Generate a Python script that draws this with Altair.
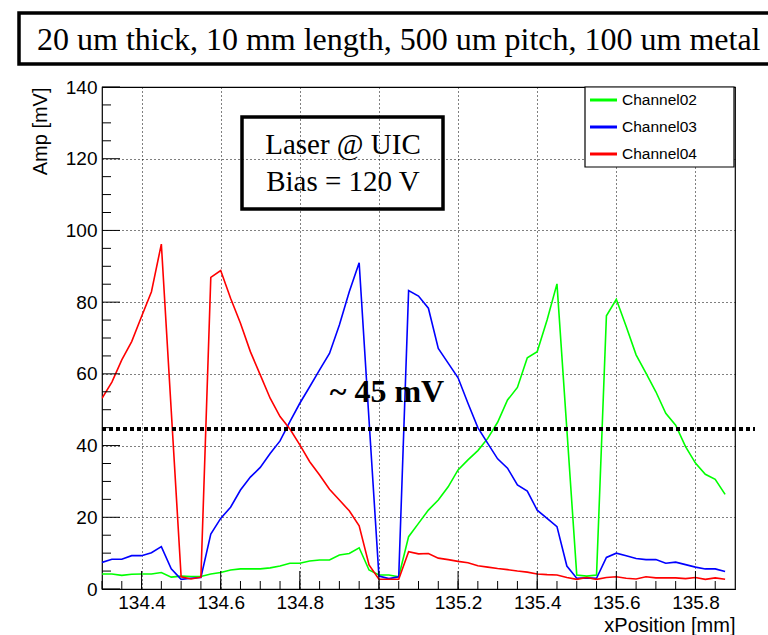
import altair as alt
import pandas as pd

# ---------------- data ----------------
x_pos = [134.3, 134.325, 134.35, 134.375, 134.4, 134.425, 134.45, 134.475,
         134.5, 134.525, 134.55, 134.575, 134.6, 134.625, 134.65, 134.675,
         134.7, 134.725, 134.75, 134.775, 134.8, 134.825, 134.85, 134.875,
         134.9, 134.925, 134.95, 134.975, 135.0, 135.025, 135.05, 135.075,
         135.1, 135.125, 135.15, 135.175, 135.2, 135.225, 135.25, 135.275,
         135.3, 135.325, 135.35, 135.375, 135.4, 135.425, 135.45, 135.475,
         135.5, 135.525, 135.55, 135.575, 135.6, 135.625, 135.65, 135.675,
         135.7, 135.725, 135.75, 135.775, 135.8, 135.825, 135.85, 135.875]

ch02 = [4.2, 4.2, 3.8, 4.1, 4.2, 4.2, 4.6, 3.3,
        3.6, 3.5, 3.5, 4.2, 4.6, 5.3, 5.6, 5.6,
        5.6, 5.9, 6.4, 7.2, 7.2, 7.8, 8.1, 8.1,
        9.5, 9.9, 11.5, 5.3, 3.9, 3.9, 3.4, 14.6,
        18.3, 22.0, 24.8, 28.5, 33.2, 36.0, 38.6, 42.0,
        46.5, 52.7, 56.2, 64.5, 66.2, 75.0, 85.1, 44.5,
        3.9, 3.6, 3.9, 76.2, 80.8, 73.2, 65.3, 60.2,
        55.0, 49.0, 45.7, 39.7, 35.1, 32.0, 30.6, 26.4]

ch03 = [7.4, 8.3, 8.3, 9.3, 9.3, 10.1, 11.8, 5.6,
        2.7, 3.0, 3.2, 15.3, 19.7, 22.8, 27.6, 31.2,
        33.9, 37.8, 41.3, 46.7, 51.8, 56.4, 61.1, 65.7,
        73.6, 82.9, 91.0, 47.0, 3.6, 2.9, 3.4, 83.2,
        81.7, 78.3, 67.1, 63.0, 58.9, 51.8, 45.0, 40.6,
        36.3, 33.7, 29.0, 27.3, 22.0, 19.7, 17.4, 6.4,
        3.0, 3.1, 3.0, 8.8, 10.0, 9.3, 8.5, 8.2,
        8.2, 7.2, 7.5, 6.8, 6.1, 5.6, 5.6, 4.9]

ch04 = [53.2, 57.7, 63.9, 69.0, 76.0, 82.9, 96.2, 49.8,
        3.4, 2.8, 3.3, 86.9, 88.8, 81.1, 74.1, 66.2,
        59.7, 53.2, 48.1, 44.6, 40.2, 35.5, 31.8, 27.8,
        24.8, 21.8, 17.6, 6.7, 2.7, 2.7, 2.7, 10.4,
        9.8, 9.9, 8.6, 8.2, 7.7, 7.3, 6.5, 6.1,
        5.7, 5.4, 5.0, 4.7, 4.2, 4.0, 3.9, 3.2,
        2.7, 3.2, 2.7, 3.2, 3.4, 3.0, 2.8, 3.4,
        3.1, 3.1, 3.1, 2.9, 3.2, 2.7, 3.1, 2.7]

channels = ["Channel02", "Channel03", "Channel04"]
colors = ["#00ff00", "#0000ff", "#ff0000"]

level_mv = [44.6]
level_label = ["~ 45 mV"]
title_text = ["20 um thick, 10 mm length, 500 um pitch, 100 um metal"]
box_lines = ["Laser @ UIC", "Bias = 120 V"]

x_major = [134.4, 134.6, 134.8, 135.0, 135.2, 135.4, 135.6, 135.8]
x_minor = [134.3, 134.35, 134.4, 134.45, 134.5, 134.55, 134.6, 134.65,
           134.7, 134.75, 134.8, 134.85, 134.9, 134.95, 135.0, 135.05,
           135.1, 135.15, 135.2, 135.25, 135.3, 135.35, 135.4, 135.45,
           135.5, 135.55, 135.6, 135.65, 135.7, 135.75, 135.8, 135.85]
y_major = [0, 20, 40, 60, 80, 100, 120, 140]
y_minor = [5, 10, 15, 25, 30, 35, 45, 50, 55, 65, 70, 75, 85, 90, 95,
           105, 110, 115, 125, 130, 135]

# ---------------- layout ----------------
W, H = 633, 502
SANS = "Liberation Sans"
SERIF = "Liberation Serif"

df = pd.DataFrame({
    "x": x_pos * 3,
    "amp": ch02 + ch03 + ch04,
    "ch": [c for c in channels for _ in x_pos],
})

xs = alt.Scale(domain=[134.3, 135.9], nice=False, zero=False)
ys = alt.Scale(domain=[0, 140], nice=False, zero=False)
cs = alt.Scale(domain=channels, range=colors)

x_axis = alt.Axis(values=x_major, format="~g", grid=True, gridDash=[1, 3],
                  gridColor="black", gridOpacity=1, gridWidth=1,
                  ticks=False, tickSize=0, domain=False,
                  labelFont=SANS, labelFontSize=19, labelColor="black",
                  labelPadding=4, labelFlush=False, labelOverlap=False,
                  title="xPosition [mm]", titleFont=SANS, titleFontSize=20,
                  titleFontWeight="normal", titleColor="black",
                  titleAlign="right", titleBaseline="alphabetic",
                  titleX=W, titleY=42)
y_axis = alt.Axis(values=y_major, grid=True, gridDash=[1, 3],
                  gridColor="black", gridOpacity=1, gridWidth=1,
                  ticks=False, tickSize=0, domain=False,
                  labelFont=SANS, labelFontSize=19, labelColor="black",
                  labelPadding=5, labelFlush=False, labelOverlap=False,
                  title="Amp [mV]", titleFont=SANS, titleFontSize=20,
                  titleFontWeight="normal", titleColor="black",
                  titleAngle=270, titleAlign="right", titleBaseline="alphabetic",
                  titleX=-56, titleY=0)

lines = alt.Chart(df).mark_line(strokeWidth=1.6, clip=True).encode(
    x=alt.X("x:Q", scale=xs, axis=x_axis),
    y=alt.Y("amp:Q", scale=ys, axis=y_axis),
    color=alt.Color("ch:N", scale=cs, legend=None),
    order=alt.Order("x:Q"),
)

def xticks(vals, length):
    return alt.Chart(pd.DataFrame({"v": vals})).mark_rule(
        color="black", strokeWidth=1).encode(
        x=alt.X("v:Q", scale=xs, axis=x_axis),
        y=alt.value(H), y2=alt.value(H - length))

def yticks(vals, length):
    return alt.Chart(pd.DataFrame({"v": vals})).mark_rule(
        color="black", strokeWidth=1).encode(
        y=alt.Y("v:Q", scale=ys, axis=y_axis),
        x=alt.value(0), x2=alt.value(length))

level = alt.Chart(pd.DataFrame({"y": level_mv})).mark_rule(
    color="black", strokeWidth=4, strokeDash=[4, 3]).encode(
    y=alt.Y("y:Q", scale=ys, axis=y_axis),
    x=alt.value(0), x2=alt.value(653))

level_txt = alt.Chart(pd.DataFrame({"t": level_label})).mark_text(
    font=SERIF, fontWeight="bold", fontSize=32, color="black",
    align="center", baseline="alphabetic").encode(
    text="t:N", x=alt.value(285), y=alt.value(315))

one = pd.DataFrame({"a": [0]})

title_box = alt.Chart(one).mark_rect(
    fill="white", stroke="black", strokeWidth=3.5).encode(
    x=alt.value(-83), x2=alt.value(700), y=alt.value(-74), y2=alt.value(-23))
title_txt = alt.Chart(pd.DataFrame({"t": title_text})).mark_text(
    font=SERIF, fontSize=32, color="black", align="left",
    baseline="alphabetic").encode(
    text="t:N", x=alt.value(-65), y=alt.value(-37))

info_box = alt.Chart(one).mark_rect(
    fillOpacity=0, stroke="black", strokeWidth=3.5).encode(
    x=alt.value(140), x2=alt.value(341), y=alt.value(30), y2=alt.value(122))
info_l1 = alt.Chart(pd.DataFrame({"t": box_lines[:1]})).mark_text(
    font=SERIF, fontSize=29, color="black", align="center",
    baseline="alphabetic").encode(text="t:N", x=alt.value(241), y=alt.value(67))
info_l2 = alt.Chart(pd.DataFrame({"t": box_lines[1:]})).mark_text(
    font=SERIF, fontSize=29, color="black", align="center",
    baseline="alphabetic").encode(text="t:N", x=alt.value(241), y=alt.value(104))

legend_box = alt.Chart(one).mark_rect(
    fill="white", stroke="black", strokeWidth=1.2).encode(
    x=alt.value(483), x2=alt.value(632), y=alt.value(0), y2=alt.value(80))

legend_layers = []
for i, name in enumerate(channels):
    d = pd.DataFrame({"ch": [name]})
    yy = 13 + 27 * i
    legend_layers.append(
        alt.Chart(d).mark_rule(strokeWidth=3).encode(
            x=alt.value(488), x2=alt.value(515), y=alt.value(yy),
            color=alt.Color("ch:N", scale=cs, legend=None)))
    legend_layers.append(
        alt.Chart(d).mark_text(font=SANS, fontSize=15.5, color="black",
                               align="left", baseline="middle").encode(
            text="ch:N", x=alt.value(520), y=alt.value(yy)))

chart = alt.layer(
    lines,
    xticks(x_minor, 8), xticks(x_major, 18),
    yticks(y_minor, 9), yticks(y_major, 18),
    level, level_txt,
    title_box, title_txt,
    info_box, info_l1, info_l2,
    legend_box, *legend_layers,
).properties(
    width=W, height=H, autosize="none",
    padding={"left": 102, "top": 87, "right": 33, "bottom": 46},
    background="white",
).configure_view(stroke="black", strokeWidth=1.2)

chart.save("out.html", embed_options={"renderer": "svg", "actions": False})
